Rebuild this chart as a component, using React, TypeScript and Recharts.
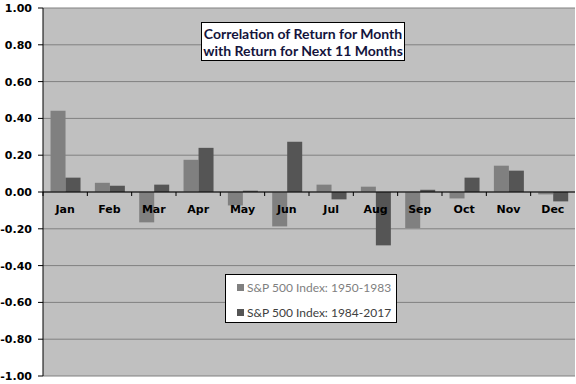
import { BarChart, Bar, XAxis, YAxis, CartesianGrid, ReferenceLine } from "recharts";

const months = ["Jan", "Feb", "Mar", "Apr", "May", "Jun", "Jul", "Aug", "Sep", "Oct", "Nov", "Dec"];
const early = [0.442, 0.05, -0.165, 0.175, -0.073, -0.187, 0.04, 0.029, -0.196, -0.035, 0.143, -0.013];
const late = [0.078, 0.034, 0.04, 0.24, 0.007, 0.273, -0.04, -0.29, 0.012, 0.078, 0.116, -0.051];
const yTicks = [-1, -0.8, -0.6, -0.4, -0.2, 0, 0.2, 0.4, 0.6, 0.8, 1];

const seriesNames = ["S&P 500 Index: 1950-1983", "S&P 500 Index: 1984-2017"];
const seriesColors = ["#808080", "#555555"];

const data = months.map((m, i) => ({ month: m, early: early[i], late: late[i] }));

const W = 576;
const H = 384;
const TOP = 8;
const BOTTOM = 7;
const LEFT = 43;
const RIGHT = 1;
const XH = 1;
const PLOT_H = H - TOP - BOTTOM - XH;
const BAND = (W - LEFT - RIGHT) / months.length;

const MonthTick = (props: any) => {
  const { x, payload } = props;
  const zeroY = TOP + PLOT_H / 2;
  return (
    <g>
      <line x1={x - BAND / 2} x2={x - BAND / 2} y1={zeroY} y2={zeroY + 4} stroke="#000" />
      <text x={x} y={zeroY + 21} textAnchor="middle" fontFamily="DejaVu Sans" fontWeight="bold" fontSize={11} fill="#000">
        {payload.value}
      </text>
    </g>
  );
};

export default function App() {
  return (
    <div style={{ position: "absolute", left: 0, top: 0, width: W, height: H, background: "#fff" }}>
      <BarChart width={W} height={H} data={data} margin={{ top: TOP, right: RIGHT, bottom: BOTTOM, left: 0 }} barCategoryGap="17%" barGap={0}>
        <CartesianGrid vertical={false} stroke="#808080" fill="#c0c0c0" fillOpacity={1} />
        <YAxis
          width={LEFT}
          domain={[-1, 1]}
          ticks={yTicks}
          tickFormatter={(v: number) => v.toFixed(2)}
          axisLine={{ stroke: "#000" }}
          tickLine={{ stroke: "#000" }}
          tickSize={5}
          tickMargin={6}
          tick={{ fontFamily: "DejaVu Sans", fontWeight: "bold", fontSize: 11, fill: "#000" }}
          interval={0}
        />
        <Bar dataKey="early" name={seriesNames[0]} fill={seriesColors[0]} isAnimationActive={false} />
        <Bar dataKey="late" name={seriesNames[1]} fill={seriesColors[1]} isAnimationActive={false} />
        <ReferenceLine y={0} stroke="#000" />
        <XAxis dataKey="month" height={XH} axisLine={false} tickLine={false} tick={<MonthTick />} interval={0} />
      </BarChart>
      <div
        style={{
          position: "absolute",
          left: 201,
          top: 22,
          width: 204,
          height: 39,
          background: "#fff",
          border: "1px solid #000",
          fontFamily: "Lato",
          fontWeight: "bold",
          fontSize: 14,
          lineHeight: "17px",
          color: "#14143c",
          textAlign: "center",
          paddingTop: 2,
          boxSizing: "border-box",
        }}
      >
        Correlation of Return for Month
        <br />
        with Return for Next 11 Months
      </div>
      <div
        style={{
          position: "absolute",
          left: 225,
          top: 274,
          width: 172,
          height: 49,
          background: "#fff",
          border: "1px solid #000",
          boxSizing: "border-box",
          fontFamily: "Lato",
          fontSize: 12,
        }}
      >
        {seriesNames.map((n, i) => (
          <div
            key={n}
            style={{ position: "absolute", left: 11, top: 5 + i * 25, color: i === 0 ? "#808080" : "#404040", display: "flex", alignItems: "center", whiteSpace: "nowrap" }}
          >
            <span style={{ width: 7, height: 7, background: seriesColors[i], marginRight: 3, display: "inline-block" }} />
            {n}
          </div>
        ))}
      </div>
    </div>
  );
}
